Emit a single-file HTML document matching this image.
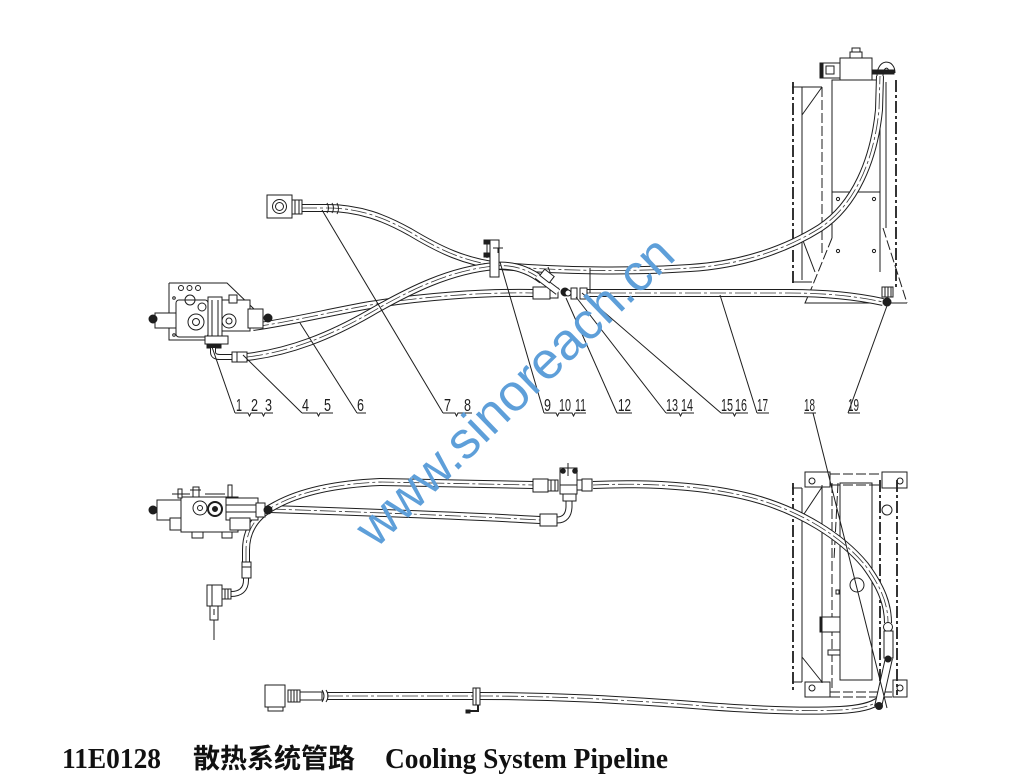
<!DOCTYPE html>
<html><head><meta charset="utf-8">
<style>
html,body{margin:0;padding:0;background:#fff;}
svg{display:block;}
.l{fill:none;stroke:#1e1e1e;stroke-width:1;}
.f{fill:#fff;stroke:#1e1e1e;stroke-width:1;}
.k{fill:#1e1e1e;stroke:#1e1e1e;stroke-width:1;}
.ho{fill:none;stroke:#1e1e1e;stroke-width:8;}
.hi{fill:none;stroke:#fff;stroke-width:6;}
.hc{fill:none;stroke:#333;stroke-width:0.8;stroke-dasharray:16 3 3 3;}
.so{fill:none;stroke:#1e1e1e;stroke-width:7;}
.si{fill:none;stroke:#fff;stroke-width:5;}
.dd{fill:none;stroke:#1e1e1e;stroke-width:1.8;stroke-dasharray:12 3 3 3;}
.ds{fill:none;stroke:#1e1e1e;stroke-width:1;stroke-dasharray:10 3;}
.num{font-family:"Liberation Sans",sans-serif;font-size:17.5px;fill:#1e1e1e;}
</style></head><body>
<svg width="1024" height="776" viewBox="0 0 1024 776" xmlns="http://www.w3.org/2000/svg">
<defs>
<path id="t1" d="M301,208 L327,208 C360,208 385,218 410,232 C440,250 465,262 500,266 C560,271 630,272 690,268 C740,265 785,250 820,228 C855,205 874,160 879,110 L880,76"/>
<path id="t2a" d="M253,327 C290,322 330,312 370,305 C420,297 480,292 533,293"/>
<path id="t2b" d="M585,293 L790,293 C830,293 860,297 883,302"/>
<path id="t3" d="M247,357 C290,352 330,336 370,313 C410,290 450,270 495,266 C515,264 530,271 542,280"/>
<path id="b1" d="M246,562 L246,550 C246,530 256,515 276,505 C300,492 335,484 380,482 L533,485"/>
<path id="b2" d="M270,509 C330,511 450,515 540,520"/>
<path id="b3" d="M593,485 C660,482 720,488 760,500 C800,512 840,535 865,565 C882,588 888,605 888,623"/>
<path id="b5" d="M327,696 L480,696 C560,696 620,700 680,704 C740,709 800,712 840,710 C860,709 872,706 880,700"/>
</defs>

<!-- ================= TOP RADIATOR ================= -->
<g>
<path class="dd" d="M793,82 L793,285"/>
<path class="l" d="M792,87 L822,87 M792,282 L812,282 M802,87 L802,280 M802,115 L822,87 M802,238 L815,272"/>
<path class="ds" d="M822,87 L822,255"/>
<rect class="f" x="832" y="80" width="48" height="112"/>
<rect class="f" x="840" y="58" width="32" height="22"/>
<rect class="f" x="850" y="52" width="12" height="6"/>
<rect class="f" x="852" y="48" width="8" height="4"/>
<rect class="f" x="822" y="63" width="18" height="15"/>
<rect class="k" x="820" y="63" width="3" height="15"/>
<rect class="l" x="826" y="66" width="8" height="8"/>
<path class="l" d="M880,82 L880,272 M886,82 L886,228"/>
<path class="dd" d="M896,80 L896,290"/>
<path class="l" d="M832,192 L880,192 M832,192 L832,238 M812,287 L805,303 L907,303"/>
<path class="ds" d="M832,238 L812,287 M883,228 L907,303"/>
<circle class="l" cx="838" cy="199" r="1.6"/><circle class="l" cx="874" cy="199" r="1.6"/>
<circle class="l" cx="838" cy="251" r="1.6"/><circle class="l" cx="874" cy="251" r="1.6"/>
</g>

<!-- ================= LOWER RADIATOR ================= -->
<g>
<rect class="l" x="805" y="472" width="25" height="15"/><circle class="l" cx="812" cy="481" r="3"/>
<rect class="l" x="882" y="472" width="25" height="16"/><circle class="l" cx="900" cy="481" r="3"/>
<rect class="l" x="805" y="682" width="25" height="15"/><circle class="l" cx="812" cy="688" r="3"/>
<rect class="l" x="893" y="680" width="14" height="17"/><circle class="l" cx="900" cy="688" r="3"/>
<path class="ds" d="M830,474 L882,474 M830,485 L882,485 M830,692 L893,692 M830,697 L893,697"/>
<path class="dd" d="M793,483 L793,690"/>
<path class="l" d="M802,488 L802,682 M822,485 L822,683 M802,517 L822,487 M802,657 L822,682 M792,488 L802,488 M792,682 L802,682"/>
<path class="ds" d="M832,483 L832,690 M838,483 L834,560"/>
<rect class="l" x="840" y="483" width="32" height="197"/>
<path class="dd" d="M880,480 L880,695 M897,480 L897,695"/>
<circle class="l" cx="887" cy="510" r="5"/>
<circle class="l" cx="857" cy="585" r="7"/>
<rect class="f" x="820" y="617" width="20" height="15"/><rect class="k" x="820" y="617" width="2" height="15"/>
<rect class="f" x="828" y="650" width="12" height="5"/>
<rect class="l" x="836" y="590" width="3" height="4"/>
</g>

<!-- ================= TOP HOSES ================= -->
<g>
<use href="#t1" class="ho"/><use href="#t1" class="hi"/><use href="#t1" class="hc"/>
<use href="#t2a" class="ho"/><use href="#t2a" class="hi"/><use href="#t2a" class="hc"/>
<use href="#t3" class="ho"/><use href="#t3" class="hi"/><use href="#t3" class="hc"/>
<use href="#t2b" class="ho"/><use href="#t2b" class="hi"/><use href="#t2b" class="hc"/>
<path class="so" d="M880,76 C880,62 892,62 892,73"/><path class="si" d="M880,76 C880,62 892,62 892,73"/>
<rect class="k" x="872" y="70" width="22" height="4"/>
</g>

<!-- top-left box & rings -->
<rect class="f" x="267" y="195" width="25" height="23"/>
<circle class="l" cx="279.5" cy="206.5" r="7"/><circle class="l" cx="279.5" cy="206.5" r="4"/>
<rect class="f" x="292" y="200" width="10" height="14"/>
<path class="l" d="M295,200 L295,214 M299,200 L299,214"/>
<path class="l" d="M327,203 Q330,208 327,213 M332,203 Q335,208 332,213 M337,203 Q340,209 337,214"/>

<!-- top valve -->
<g>
<path class="l" d="M169,283 L227,283 L255,310 M169,283 L169,340 L205,340"/>
<circle class="l" cx="181" cy="288" r="2.5"/><circle class="l" cx="189.5" cy="288" r="2.5"/><circle class="l" cx="198" cy="288" r="2.5"/>
<circle class="l" cx="174" cy="298" r="1.3"/><circle class="l" cx="174" cy="335" r="1.3"/>
<rect class="f" x="155" y="313" width="22" height="15"/>
<circle class="k" cx="153" cy="319" r="4"/>
<rect class="f" x="176" y="300" width="32" height="37" rx="3"/>
<circle class="l" cx="190" cy="300" r="5"/><circle class="l" cx="202" cy="307" r="4"/>
<circle class="f" cx="196" cy="322" r="8"/><circle class="l" cx="196" cy="322" r="3.5"/>
<rect class="f" x="208" y="297" width="14" height="41"/>
<path class="l" d="M212,300 L212,336 M218,300 L218,336"/>
<rect class="f" x="222" y="300" width="28" height="31"/>
<circle class="f" cx="229" cy="321" r="7"/><circle class="l" cx="229" cy="321" r="3"/>
<rect class="f" x="229" y="295" width="8" height="8"/>
<rect class="f" x="248" y="309" width="15" height="19"/>
<circle class="k" cx="268" cy="318" r="4"/>
<rect class="f" x="205" y="336" width="23" height="8"/>
<rect class="k" x="207" y="344" width="14" height="4"/>
<path class="so" d="M213,348 L213,352 Q213,357 220,357 L232,357" style="stroke-width:6"/>
<path class="si" d="M213,348 L213,352 Q213,357 220,357 L232,357" style="stroke-width:4"/>
<rect class="f" x="232" y="352" width="15" height="10"/>
<path class="l" d="M237,352 L237,362"/>
</g>

<!-- top clamp -->
<rect class="f" x="490" y="240" width="9" height="37"/>
<path class="l" d="M487,240 L487,258 M493,248 L503,248 M498,248 L498,253"/>
<rect class="k" x="484" y="240" width="6" height="4"/><rect class="k" x="484" y="253" width="6" height="4"/>

<!-- top tee -->
<g>
<rect class="f" x="533" y="287" width="17" height="12"/>
<rect class="f" x="550" y="288" width="8" height="10"/>
<path class="so" d="M537,276 L558,292"/><path class="si" d="M537,276 L558,292"/>
<rect class="f" x="541" y="272" width="12" height="8" transform="rotate(38 547 276)"/>
<circle class="k" cx="565" cy="292" r="4"/>
<circle class="f" cx="568" cy="293" r="3"/>
<rect class="f" x="571" y="288" width="6" height="11"/>
<rect class="f" x="580" y="288" width="7" height="11"/>
<path class="l" d="M590,268 L590,293 M548,267 L550,272"/>
</g>
<!-- bottom fitting at radiator -->
<rect class="f" x="882" y="287" width="11" height="10"/>
<path class="l" d="M885,287 L885,297 M888,287 L888,297 M891,287 L891,297"/>
<circle class="k" cx="887" cy="302" r="4"/>

<!-- ================= LOWER HOSES ================= -->
<g>
<use href="#b2" class="ho"/><use href="#b2" class="hi"/><use href="#b2" class="hc"/>
<use href="#b1" class="ho"/><use href="#b1" class="hi"/><use href="#b1" class="hc"/>
<use href="#b3" class="ho"/><use href="#b3" class="hi"/><use href="#b3" class="hc"/>
<use href="#b5" class="ho"/><use href="#b5" class="hi"/><use href="#b5" class="hc"/>
<path class="so" d="M557,520 C565,520 569,515 569,506 L569,498"/><path class="si" d="M557,520 C565,520 569,515 569,506 L569,498"/>
<path class="ho" d="M889,658 L878,707"/><path class="hi" d="M889,658 L878,707"/>
<circle class="k" cx="879" cy="706" r="3.5"/>
</g>

<!-- lower valve -->
<g>
<circle class="k" cx="153" cy="510" r="4"/>
<rect class="f" x="157" y="500" width="25" height="20"/>
<rect class="f" x="170" y="518" width="12" height="12"/>
<rect class="f" x="181" y="497" width="57" height="35"/>
<circle class="f" cx="200" cy="508" r="7"/><circle class="l" cx="200" cy="508" r="2.5"/>
<circle class="f" cx="215" cy="509" r="7" style="stroke-width:2"/><circle class="k" cx="215" cy="509" r="2.5"/>
<rect class="f" x="226" y="498" width="32" height="22"/>
<path class="l" d="M226,505 L258,505 M226,512 L258,512"/>
<rect class="f" x="256" y="503" width="9" height="14"/>
<circle class="k" cx="268" cy="510" r="4"/>
<rect class="f" x="192" y="532" width="11" height="6"/><rect class="f" x="222" y="532" width="10" height="6"/>
<rect class="f" x="230" y="518" width="20" height="12"/>
<rect class="f" x="178" y="489" width="4" height="9"/>
<rect class="f" x="193" y="487" width="6" height="10"/><path class="l" d="M190,490 L201,490"/>
<rect class="f" x="228" y="485" width="4" height="12"/>
<path class="l" d="M172,494 L190,494 M205,494 L225,494"/>
</g>

<!-- sensor lower-left -->
<g>
<path class="so" d="M231,594 C240,594 246,590 246,580 L246,577" style="stroke-width:6"/>
<path class="si" d="M231,594 C240,594 246,590 246,580 L246,577" style="stroke-width:4"/>
<rect class="f" x="242" y="562" width="9" height="16"/>
<path class="l" d="M242,567 L251,567"/>
<rect class="f" x="207" y="585" width="15" height="21"/>
<path class="l" d="M212,585 L212,606"/>
<rect class="f" x="222" y="589" width="9" height="10"/>
<path class="l" d="M225,589 L225,599 M228,589 L228,599"/>
<rect class="f" x="210" y="606" width="8" height="14"/>
<path class="l" d="M214,609 L214,615 M214,620 L214,640"/>
</g>

<!-- lower tee -->
<g>
<rect class="f" x="533" y="479" width="15" height="13"/>
<rect class="f" x="548" y="480" width="10" height="11"/>
<path class="l" d="M551,480 L551,491 M555,480 L555,491"/>
<rect class="f" x="560" y="468" width="17" height="26"/>
<path class="l" d="M568,463 L568,476 M560,485 L577,485"/>
<circle class="k" cx="563" cy="471" r="2.3"/><circle class="k" cx="575" cy="471" r="2.3"/>
<rect class="f" x="577" y="480" width="5" height="10"/>
<rect class="f" x="582" y="479" width="10" height="12"/>
<rect class="f" x="563" y="494" width="13" height="7"/>
<rect class="f" x="540" y="514" width="17" height="12"/>
</g>

<!-- radiator inlet fitting (lower) -->
<circle class="f" cx="888" cy="627" r="4.5"/>
<rect class="f" x="884" y="631" width="9" height="27"/>
<circle class="k" cx="888" cy="659" r="3"/>

<!-- bottom hose box & clamp -->
<g>
<rect class="f" x="265" y="685" width="20" height="22"/>
<rect class="f" x="268" y="707" width="15" height="4"/>
<rect class="f" x="288" y="690" width="12" height="12"/>
<path class="l" d="M291,690 L291,702 M294,690 L294,702 M297,690 L297,702"/>
<rect class="f" x="300" y="692" width="22" height="8"/>
<path class="l" d="M322,690 Q326,696 322,702 M326,690 Q330,696 326,702"/>
<rect class="f" x="473" y="688" width="7" height="17"/>
<path class="l" d="M476,688 L476,705"/>
<path class="l" d="M478,705 L478,711 L468,711" style="stroke-width:2"/>
<rect class="k" x="466" y="710" width="4" height="3"/>
</g>

<!-- ================= LEADER LINES ================= -->
<g class="l">
<path d="M235,413 L212,347"/>
<path d="M302,413 L243,355"/>
<path d="M357,413 L300,323"/>
<path d="M443,413 L322,210"/>
<path d="M544,413 L500,262"/>
<path d="M617,413 L566,298"/>
<path d="M666,413 L576,297"/>
<path d="M721,413 L582,293"/>
<path d="M757,413 L720,295"/>
<path d="M848,413 L888,303"/>
<path d="M813,413 L887,708"/>
<!-- underlines -->
<path d="M235,413 L248,413 L249.5,416 L251,413 L262,413 L263.5,416 L265,413 L273,413"/>
<path d="M302,413 L317,413 L318.5,416 L320,413 L333,413"/>
<path d="M357,413 L366,413"/>
<path d="M443,413 L455,413 L456.5,416 L458,413 L472,413"/>
<path d="M544,413 L556,413 L557.5,416 L559,413 L572,413 L573.5,416 L575,413 L586,413"/>
<path d="M617,413 L632,413"/>
<path d="M666,413 L679,413 L680.5,416 L682,413 L694,413"/>
<path d="M721,413 L733,413 L734.5,416 L736,413 L748,413"/>
<path d="M757,413 L769,413"/>
<path d="M804,413 L816,413"/>
<path d="M848,413 L860,413"/>
</g>
<g class="num">
<text x="236" y="411" textLength="6" lengthAdjust="spacingAndGlyphs">1</text>
<text x="251" y="411" textLength="7" lengthAdjust="spacingAndGlyphs">2</text>
<text x="265" y="411" textLength="7" lengthAdjust="spacingAndGlyphs">3</text>
<text x="302" y="411" textLength="7" lengthAdjust="spacingAndGlyphs">4</text>
<text x="324" y="411" textLength="7" lengthAdjust="spacingAndGlyphs">5</text>
<text x="357" y="411" textLength="7" lengthAdjust="spacingAndGlyphs">6</text>
<text x="444" y="411" textLength="7" lengthAdjust="spacingAndGlyphs">7</text>
<text x="464" y="411" textLength="7" lengthAdjust="spacingAndGlyphs">8</text>
<text x="544" y="411" textLength="7" lengthAdjust="spacingAndGlyphs">9</text>
<text x="559" y="411" textLength="12" lengthAdjust="spacingAndGlyphs">10</text>
<text x="575" y="411" textLength="11" lengthAdjust="spacingAndGlyphs">11</text>
<text x="618" y="411" textLength="13" lengthAdjust="spacingAndGlyphs">12</text>
<text x="666" y="411" textLength="12" lengthAdjust="spacingAndGlyphs">13</text>
<text x="681" y="411" textLength="12" lengthAdjust="spacingAndGlyphs">14</text>
<text x="721" y="411" textLength="12" lengthAdjust="spacingAndGlyphs">15</text>
<text x="735" y="411" textLength="12" lengthAdjust="spacingAndGlyphs">16</text>
<text x="757" y="411" textLength="11" lengthAdjust="spacingAndGlyphs">17</text>
<text x="804" y="411" textLength="11" lengthAdjust="spacingAndGlyphs">18</text>
<text x="848" y="411" textLength="11" lengthAdjust="spacingAndGlyphs">19</text>
</g>

<!-- ================= CAPTION ================= -->
<text x="62" y="768" font-family="'Liberation Serif', serif" font-weight="bold" font-size="29" textLength="99" lengthAdjust="spacingAndGlyphs" fill="#111">11E0128</text>
<text x="193" y="768" font-family="'Noto Sans CJK SC', 'WenQuanYi Zen Hei', sans-serif" font-weight="bold" font-size="27" textLength="162" lengthAdjust="spacingAndGlyphs" fill="#111">散热系统管路</text>
<text x="385" y="768" font-family="'Liberation Serif', serif" font-weight="bold" font-size="29" textLength="283" lengthAdjust="spacingAndGlyphs" fill="#111">Cooling System Pipeline</text>

<!-- ================= WATERMARK ================= -->
<text x="376" y="549" transform="rotate(-44 376 549)" font-family="'Liberation Sans', sans-serif" font-size="52" fill="#5e9fd9">www.sinoreach.cn</text>
</svg>
</body></html>
